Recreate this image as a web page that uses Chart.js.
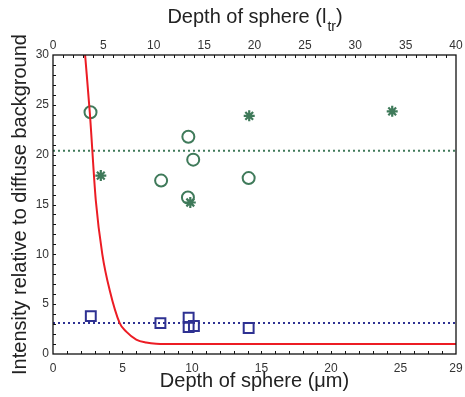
<!DOCTYPE html>
<html>
<head>
<meta charset="utf-8">
<script src="https://cdn.jsdelivr.net/npm/chart.js@4"></script>
<style>
  html, body { margin: 0; padding: 0; background: #fff; }
  #wrap { width: 465px; height: 397px; }
</style>
</head>
<body>
<div id="wrap"><canvas id="chart" width="465" height="397"></canvas></div>
<script>
// Values
const circleX = [2.70, 9.74, 10.09, 7.78, 9.71, 14.08];
const circleY = [24.25, 21.8, 19.5, 17.4, 15.7, 17.65];

const starX = [3.44, 9.88, 14.12, 24.41];
const starY = [17.9, 15.2, 23.9, 24.35];

const squareX = [2.72, 7.73, 9.76, 9.76, 10.14, 14.08];
const squareY = [3.8, 3.1, 3.64, 2.71, 2.81, 2.61];

const greenMean = 20.4;
const blueMean = 3.1;

// red model curve, sampled along the drawn line
const curveX = [2.31, 2.65, 3.08, 3.55, 4.08, 4.80, 5.27, 5.99, 6.7, 7.42, 9.0, 29];
const curveY = [30, 24.2, 15.4, 10.0, 6.4, 3.1, 2.24, 1.45, 1.15, 1.03, 1.0, 1.0];

const bottomTicks = [0, 5, 10, 15, 20, 25, 29];
const xMax = 29, x2Max = 40, yMax = 30;

const GREEN = "#3f7a5a";
const BLUE = "#2e3192";
const RED = "#ec1c24";
const FONT = "'Liberation Sans', Arial, sans-serif";

const pts = (xs, ys) => xs.map((x, i) => ({ x: x, y: ys[i] }));

// Inward ticks, frame and the top title with its subscript
const framePlugin = {
    id: "frame",
    afterDraw(chart) {
        const { ctx, chartArea: a, scales } = chart;
        ctx.save();
        ctx.strokeStyle = "#111";
        ctx.lineWidth = 1.3;
        ctx.strokeRect(a.left, a.top, a.right - a.left, a.bottom - a.top);

        ctx.lineWidth = 1;
        ctx.beginPath();
        for (let v = 1; v < xMax; v++) {
            const px = Math.round(scales.x.getPixelForValue(v)) + 0.5;
            ctx.moveTo(px, a.bottom);
            ctx.lineTo(px, a.bottom - 3);
        }
        for (let v = 1; v < x2Max; v++) {
            const px = Math.round(scales.x2.getPixelForValue(v)) + 0.5;
            ctx.moveTo(px, a.top);
            ctx.lineTo(px, a.top + 3);
        }
        for (let v = 1; v < yMax; v++) {
            const py = Math.round(scales.y.getPixelForValue(v)) + 0.5;
            ctx.moveTo(a.left, py);
            ctx.lineTo(a.left + 3, py);
        }
        ctx.stroke();

        // top title: Depth of sphere (l_tr)
        const main = "Depth of sphere (l";
        const sub = "tr";
        ctx.fillStyle = "#222";
        ctx.textBaseline = "alphabetic";
        ctx.font = "20px " + FONT;
        const w1 = ctx.measureText(main).width;
        const w3 = ctx.measureText(")").width;
        ctx.font = "14px " + FONT;
        const w2 = ctx.measureText(sub).width;
        let x = (a.left + a.right) / 2 - (w1 + w2 + w3) / 2;
        ctx.textAlign = "left";
        ctx.font = "20px " + FONT;
        ctx.fillText(main, x, 23);
        ctx.font = "14px " + FONT;
        ctx.fillText(sub, x + w1 + 1, 31);
        ctx.font = "20px " + FONT;
        ctx.fillText(")", x + w1 + w2 + 1, 23);
        ctx.restore();
    }
};

const fitHorizontal = h => s => {
    s.height = h;
    s.paddingLeft = 0;
    s.paddingRight = 0;
};

new Chart(document.getElementById("chart"), {
    type: "scatter",
    data: {
        datasets: [
            {
                data: pts(curveX, curveY),
                showLine: true,
                borderColor: RED,
                borderWidth: 2,
                pointRadius: 0,
                cubicInterpolationMode: "monotone"
            },
            {
                data: [{ x: 0, y: greenMean }, { x: xMax, y: greenMean }],
                showLine: true,
                borderColor: GREEN,
                borderWidth: 2,
                borderDash: [2, 3],
                pointRadius: 0
            },
            {
                data: [{ x: 0, y: blueMean }, { x: xMax, y: blueMean }],
                showLine: true,
                borderColor: BLUE,
                borderWidth: 2,
                borderDash: [2, 3],
                pointRadius: 0
            },
            {
                data: pts(circleX, circleY),
                pointStyle: "circle",
                pointRadius: 6,
                borderWidth: 2,
                borderColor: GREEN,
                backgroundColor: "rgba(0,0,0,0)"
            },
            {
                data: pts(starX, starY),
                pointStyle: "star",
                pointRadius: 5.5,
                borderWidth: 2.2,
                borderColor: GREEN,
                backgroundColor: GREEN
            },
            {
                data: pts(squareX, squareY),
                pointStyle: "rect",
                pointRadius: 7,
                borderWidth: 2,
                borderColor: BLUE,
                backgroundColor: "rgba(0,0,0,0)"
            }
        ]
    },
    options: {
        responsive: false,
        animation: false,
        layout: { padding: { left: 0, right: 6, top: 0, bottom: 0 } },
        scales: {
            x: {
                type: "linear",
                position: "bottom",
                min: 0,
                max: xMax,
                afterBuildTicks: s => { s.ticks = bottomTicks.map(v => ({ value: v })); },
                afterFit: fitHorizontal(43),
                grid: { display: false, drawTicks: false },
                border: { display: false },
                ticks: { padding: 7, maxRotation: 0, autoSkip: false, color: "#333", font: { family: FONT, size: 12 } },
                title: { display: true, text: "Depth of sphere (\u03bcm)", color: "#222", padding: { top: 0, bottom: 4 }, font: { family: FONT, size: 20 } }
            },
            x2: {
                type: "linear",
                position: "top",
                min: 0,
                max: x2Max,
                afterFit: fitHorizontal(55),
                grid: { display: false, drawTicks: false },
                border: { display: false },
                ticks: { stepSize: 5, padding: 2, maxRotation: 0, color: "#333", font: { family: FONT, size: 12 } }
            },
            y: {
                type: "linear",
                min: 0,
                max: yMax,
                afterFit: s => { s.width = 53; },
                grid: { display: false, drawTicks: false },
                border: { display: false },
                ticks: { stepSize: 5, padding: 4, color: "#333", font: { family: FONT, size: 12 } },
                title: { display: true, text: "Intensity relative to diffuse background", color: "#222", padding: { top: 8, bottom: 0 }, font: { family: FONT, size: 20 } }
            }
        },
        plugins: {
            legend: { display: false },
            tooltip: { enabled: false }
        }
    },
    plugins: [framePlugin]
});
</script>
</body>
</html>
